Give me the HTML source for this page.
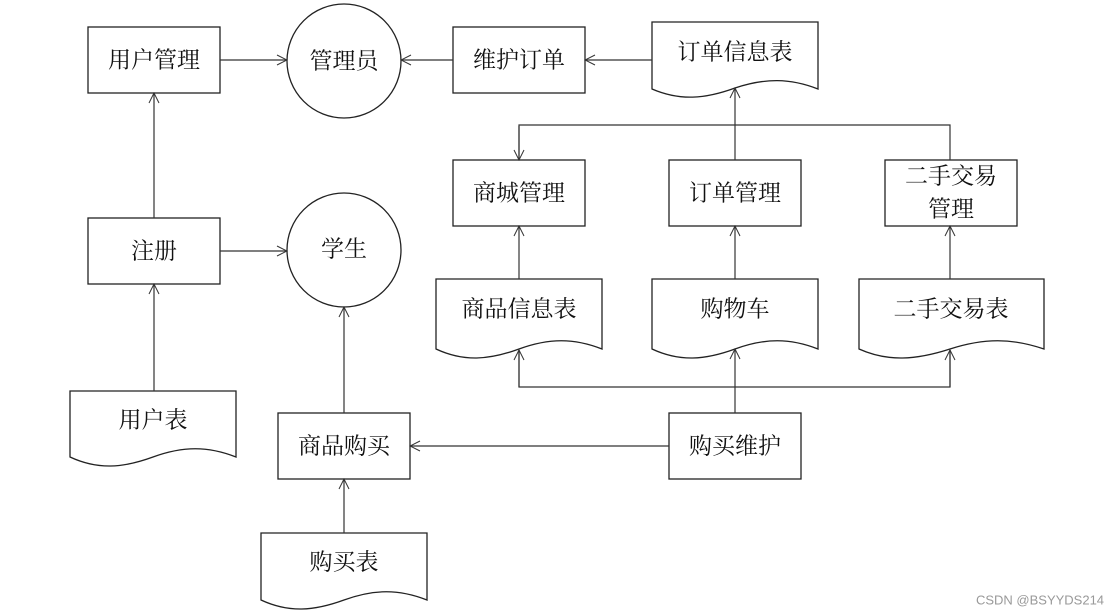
<!DOCTYPE html>
<html><head><meta charset="utf-8"><style>
html,body{margin:0;padding:0;background:#fff;}
svg{display:block;}
text{font-family:"Liberation Serif","Noto Serif CJK SC","Noto Sans CJK SC",serif;font-size:23px;fill:#111;text-anchor:middle;dominant-baseline:central;}
</style></head><body>
<svg width="1116" height="616" viewBox="0 0 1116 616" xmlns="http://www.w3.org/2000/svg">
<defs>
<marker id="a" markerWidth="12" markerHeight="12" refX="11" refY="6" orient="auto" markerUnits="userSpaceOnUse">
<path d="M1,1 L11,6 L1,11" fill="none" stroke="#333" stroke-width="1"/>
</marker>
</defs>
<g fill="#fff" stroke="#222" stroke-width="1.3">
<rect x="88" y="27" width="132" height="66"/>
<circle cx="344" cy="61" r="57"/>
<rect x="453" y="27" width="132" height="66"/>
<path d="M652,22 H818 V89 C790,78 765,78 735,88 C705,99 680,101 652,89 Z"/>
<rect x="453" y="160" width="132" height="66"/>
<rect x="669" y="160" width="132" height="66"/>
<rect x="885" y="160" width="132" height="66"/>
<rect x="88" y="218" width="132" height="66"/>
<circle cx="344" cy="250" r="57"/>
<path d="M436,279 H602 V349 C574,338 549,338 519,349 C489,360 464,362 436,349 Z"/>
<path d="M652,279 H818 V349 C790,338 765,338 735,349 C705,360 680,362 652,349 Z"/>
<path d="M859,279 H1044 V349 C1012,338 984,338 950,349 C916,360 888,362 859,349 Z"/>
<path d="M70,391 H236 V457 C208,446 183,446 153,457 C123,468 98,470 70,457 Z"/>
<rect x="278" y="413" width="132" height="66"/>
<rect x="669" y="413" width="132" height="66"/>
<path d="M261,533 H427 V600 C399,589 374,589 344,600 C314,611 289,613 261,600 Z"/>
</g>
<g fill="none" stroke="#333" stroke-width="1.2">
<line x1="220" y1="60" x2="287" y2="60" marker-end="url(#a)"/>
<line x1="453" y1="60" x2="401" y2="60" marker-end="url(#a)"/>
<line x1="652" y1="60" x2="585" y2="60" marker-end="url(#a)"/>
<line x1="735" y1="160" x2="735" y2="88" marker-end="url(#a)"/>
<polyline points="519,160 519,125 950,125 950,160"/>
<line x1="519" y1="126" x2="519" y2="160" marker-end="url(#a)"/>
<line x1="519" y1="279" x2="519" y2="226" marker-end="url(#a)"/>
<line x1="735" y1="279" x2="735" y2="226" marker-end="url(#a)"/>
<line x1="950" y1="279" x2="950" y2="226" marker-end="url(#a)"/>
<line x1="735" y1="413" x2="735" y2="349" marker-end="url(#a)"/>
<polyline points="519,350 519,387 950,387 950,350"/>
<line x1="519" y1="387" x2="519" y2="350" marker-end="url(#a)"/>
<line x1="950" y1="387" x2="950" y2="350" marker-end="url(#a)"/>
<line x1="669" y1="446" x2="410" y2="446" marker-end="url(#a)"/>
<line x1="344" y1="413" x2="344" y2="307" marker-end="url(#a)"/>
<line x1="344" y1="533" x2="344" y2="479" marker-end="url(#a)"/>
<line x1="154" y1="391" x2="154" y2="284" marker-end="url(#a)"/>
<line x1="154" y1="218" x2="154" y2="93" marker-end="url(#a)"/>
<line x1="220" y1="251" x2="287" y2="251" marker-end="url(#a)"/>
</g>
<text x="154" y="60">用户管理</text>
<text x="344" y="61">管理员</text>
<text x="519" y="60">维护订单</text>
<text x="735" y="52">订单信息表</text>
<text x="519" y="193">商城管理</text>
<text x="735" y="193">订单管理</text>
<text x="951" y="176">二手交易</text>
<text x="951" y="209">管理</text>
<text x="154" y="251">注册</text>
<text x="344" y="249">学生</text>
<text x="519" y="309">商品信息表</text>
<text x="735" y="309">购物车</text>
<text x="951" y="309">二手交易表</text>
<text x="153" y="420">用户表</text>
<text x="344" y="446">商品购买</text>
<text x="735" y="446">购买维护</text>
<text x="344" y="562">购买表</text>
<text x="1040" y="600" style="font-family:'Liberation Sans',sans-serif;font-size:13px;fill:#999;">CSDN @BSYYDS214</text>
</svg>
</body></html>
